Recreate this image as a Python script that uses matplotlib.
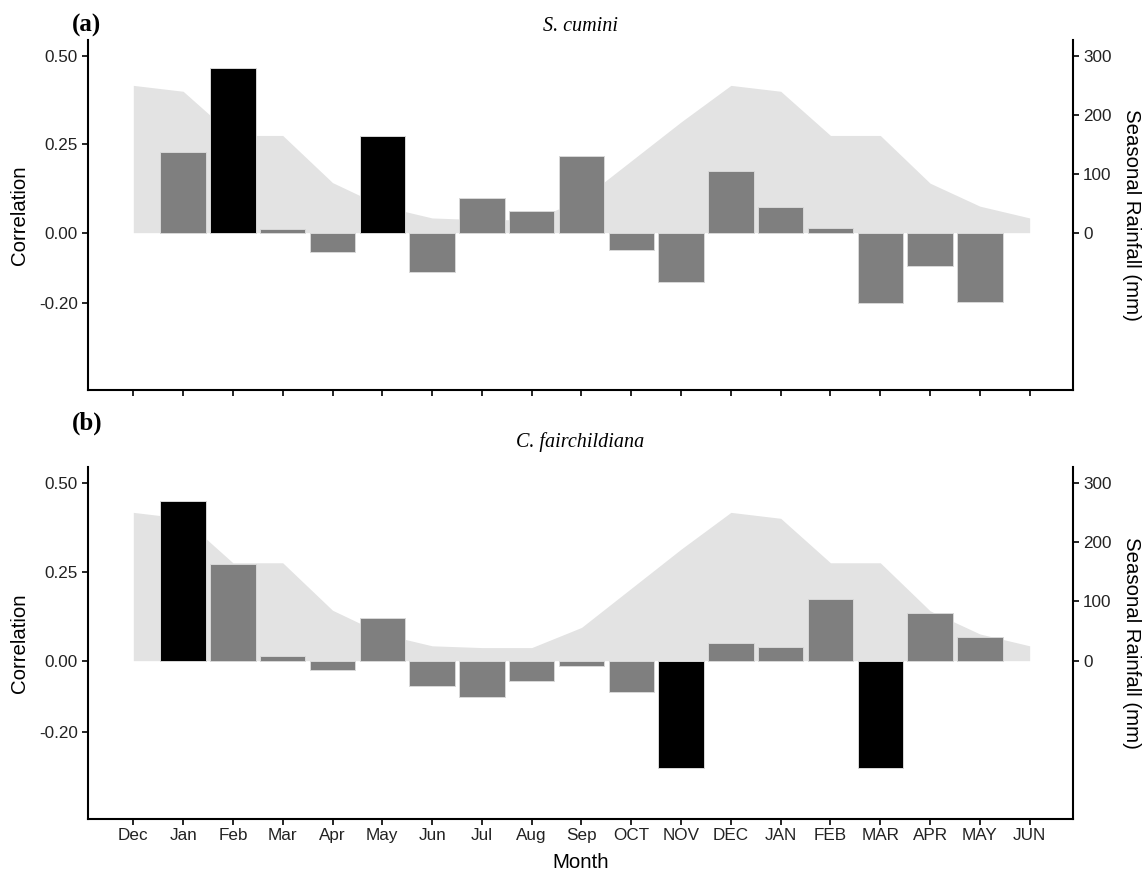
import matplotlib
matplotlib.use("Agg")
import matplotlib.pyplot as plt
import numpy as np

months = ["Dec", "Jan", "Feb", "Mar", "Apr", "May", "Jun", "Jul", "Aug", "Sep",
          "OCT", "NOV", "DEC", "JAN", "FEB", "MAR", "APR", "MAY", "JUN"]
bar_months = months[1:18]

rainfall = [250, 240, 165, 165, 85, 45, 25, 22, 22, 56,
            122, 188, 250, 240, 165, 165, 84, 45, 25]

corr_a = [0.227, 0.465, 0.009, -0.054, 0.273, -0.112, 0.097, 0.062, 0.218,
          -0.049, -0.139, 0.175, 0.073, 0.013, -0.199, -0.094, -0.195]
signif_a = [0, 1, 0, 0, 1, 0, 0, 0, 0, 0, 0, 0, 0, 0, 0, 0, 0]

corr_b = [0.449, 0.271, 0.014, -0.026, 0.119, -0.071, -0.101, -0.057, -0.016,
          -0.088, -0.302, 0.050, 0.039, 0.173, -0.302, 0.134, 0.066]
signif_b = [1, 0, 0, 0, 0, 0, 0, 0, 0, 0, 1, 0, 0, 0, 1, 0, 0]

yticks = [-0.20, 0.00, 0.25, 0.50]
ytick_labels = ["-0.20", "0.00", "0.25", "0.50"]
rain_ticks = [0, 100, 200, 300]

W, H = 1148, 875
fig = plt.figure(figsize=(W / 100, H / 100), dpi=100)

SANS = "Liberation Sans"
SERIF = "Liberation Serif"
TICKCOL = "#222222"
ylim = (-0.445, 0.545)
factor = 600.0


def fx(px):
    return px / W


def fy(py):
    return 1 - py / H


def panel(top_px, bot_px, corr, sig, show_xlabels):
    left_px, right_px = 88, 1073
    ax = fig.add_axes([fx(left_px), fy(bot_px), fx(right_px - left_px),
                       (bot_px - top_px) / H])
    ax2 = ax.twinx()
    x = np.arange(len(months))
    ax2.fill_between(x, 0, rainfall, color="#e3e3e3", lw=0, zorder=1)
    ax2.set_ylim(ylim[0] * factor, ylim[1] * factor)
    ax2.set_yticks(rain_ticks)
    ax2.set_yticklabels([str(t) for t in rain_ticks], fontsize=12.3,
                        family=SANS, color=TICKCOL)

    ax.set_zorder(ax2.get_zorder() + 1)
    ax.patch.set_visible(False)
    xb = np.arange(1, 18)
    colors = ["black" if s else "#7f7f7f" for s in sig]
    ax.bar(xb, corr, width=0.91, color=colors, edgecolor="#d8d8d8",
           linewidth=0.7, zorder=3)
    ax.set_xlim(-0.91, 18.87)
    ax.set_ylim(*ylim)
    ax.set_yticks(yticks)
    ax.set_yticklabels(ytick_labels, fontsize=12.3, family=SANS, color=TICKCOL)
    ax.set_xticks(x)
    if show_xlabels:
        ax.set_xticklabels(months, fontsize=12.3, family=SANS, color=TICKCOL)
    else:
        ax.set_xticklabels([])

    for a in (ax, ax2):
        for s in a.spines.values():
            s.set_visible(False)
        a.tick_params(length=4.3, width=1.2, color="black", pad=3)
    ax.tick_params(axis="x", pad=2)
    ax.spines["left"].set_visible(True)
    ax.spines["bottom"].set_visible(True)
    ax2.spines["right"].set_visible(True)
    for s in (ax.spines["left"], ax.spines["bottom"], ax2.spines["right"]):
        s.set_linewidth(1.5)
        s.set_color("black")
    ax2.tick_params(axis="x", bottom=False, labelbottom=False)
    return ax, ax2


panel(40, 390, corr_a, signif_a, False)
panel(466.7, 819, corr_b, signif_b, True)

fig.text(fx(72), fy(25), "(a)", family=SERIF, fontweight="bold",
         fontsize=18, ha="left", va="center")
fig.text(fx(72), fy(423), "(b)", family=SERIF, fontweight="bold",
         fontsize=18, ha="left", va="center")
fig.text(fx(580.5), fy(26.7), "S. cumini", family=SERIF, style="italic",
         fontsize=14.5, ha="center", va="center")
fig.text(fx(580.5), fy(441.7), "C. fairchildiana", family=SERIF,
         style="italic", fontsize=14.5, ha="center", va="center")
for yc in (215, 642.8):
    fig.text(fx(20), fy(yc), "Correlation", family=SANS, fontsize=14.7,
             rotation=90, ha="center", va="center")
    fig.text(fx(1131.7), fy(yc), "Seasonal Rainfall (mm)", family=SANS,
             fontsize=14.7, rotation=270, ha="center", va="center")
fig.text(fx(580.5), fy(863), "Month", family=SANS, fontsize=14.7,
         ha="center", va="center")

fig.savefig("out.png", dpi=100, facecolor="white")
